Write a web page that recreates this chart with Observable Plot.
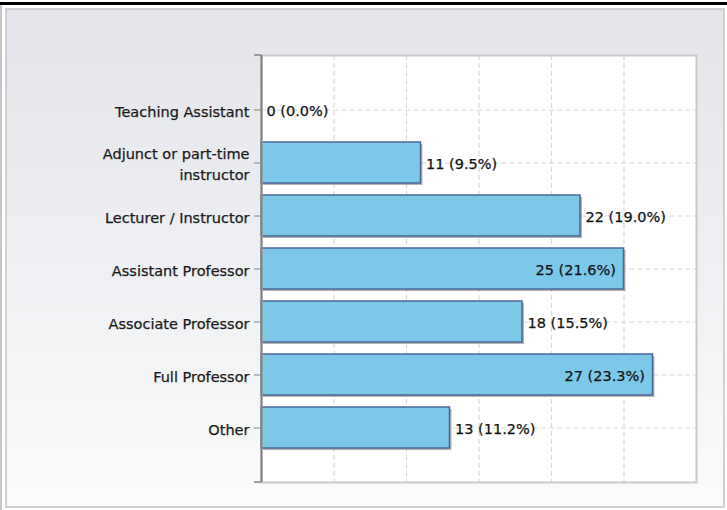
<!DOCTYPE html>
<html>
<head>
<meta charset="utf-8">
<script src="https://cdn.jsdelivr.net/npm/d3@7"></script>
<script src="https://cdn.jsdelivr.net/npm/@observablehq/plot@0.6"></script>
<style>
  body { margin: 0; background: #fff; }
  #page { position: relative; width: 727px; height: 510px; overflow: hidden; background: #fff; font-family: "DejaVu Sans", sans-serif; }
  #topbar { position: absolute; left: 0; top: 2px; width: 727px; height: 3px; background: #000; }
  #leftline { position: absolute; left: 0; top: 5px; width: 2px; height: 505px; background: #c6c6c6; }
  #panel { position: absolute; left: 5px; top: 8px; width: 716px; height: 496px; border: 2px solid #d0d0d0;
           background: linear-gradient(to bottom, #e3e5ea 0%, #eceef1 45%, #fbfbfb 100%); }
  #chart { position: absolute; left: 0; top: 0; }
  #chart svg text { stroke: #1a1a1a; stroke-width: 0.25px; }
</style>
</head>
<body>
<div id="page">
  <div id="topbar"></div>
  <div id="leftline"></div>
  <div id="panel"></div>
  <div id="chart"></div>
</div>
<script>
// ---- data ----
const categories = [
  "Teaching Assistant",
  "Adjunct or part-time\ninstructor",
  "Lecturer / Instructor",
  "Assistant Professor",
  "Associate Professor",
  "Full Professor",
  "Other"
];
const counts = [0, 11, 22, 25, 18, 27, 13];
const xGridTicks = [5, 10, 15, 20, 25];
const xDomain = [0, 30];

// ---- layout ----
const W = 727, H = 510;
const mL = 261, mR = 31, mT = 55, mB = 28;
const plotH = H - mT - mB;
const step = plotH / (categories.length + 1);

const total = d3.sum(counts);
const data = categories.map((c, i) => ({
  cat: c,
  value: counts[i],
  label: `${counts[i]} (${(counts[i] / total * 100).toFixed(1)}%)`
}));
const insideThreshold = 24;

const chart = Plot.plot({
  width: W,
  height: H,
  marginLeft: mL,
  marginRight: mR,
  marginTop: mT,
  marginBottom: mB,
  style: { fontFamily: "DejaVu Sans, sans-serif", fontSize: "14.5px", background: "transparent", overflow: "visible" },
  x: { domain: xDomain, axis: null, label: null },
  y: { domain: categories, range: [mT + step / 2, H - mB - step / 2], paddingInner: 0.22, paddingOuter: 0.11, axis: null, label: null },
  marks: [
    Plot.frame({ fill: "white", stroke: "none" }),
    Plot.ruleX(xGridTicks, { stroke: "#d9d9d9", strokeWidth: 1.2, strokeDasharray: "5,3" }),
    Plot.ruleY(categories, { y: d => d, stroke: "#d9d9d9", strokeWidth: 1.2, strokeDasharray: "5,3" }),
    Plot.barX(data, { x: "value", y: "cat", fill: "#5a5a5a", fillOpacity: 0.45, dx: 2, dy: 2, filter: d => d.value > 0 }),
    Plot.barX(data, { x: "value", y: "cat", fill: "#7cc8e9", stroke: "#4b6796", strokeWidth: 1.5, filter: d => d.value > 0 }),
    Plot.frame({ stroke: "#c9c9c9", strokeWidth: 2 }),
    Plot.ruleX([0], { stroke: "#808080", strokeWidth: 2 }),
    Plot.axisY({ tickSize: 7, tickPadding: 5, stroke: "#808080", fill: "#1a1a1a", fontSize: 14.5, lineHeight: 1.4, label: null }),
    Plot.text(data, { x: "value", y: "cat", text: "label", textAnchor: "start", dx: 5, dy: 1, fill: "#111", fontSize: 14.5,
                      filter: d => d.value <= insideThreshold }),
    Plot.text(data, { x: "value", y: "cat", text: "label", textAnchor: "end", dx: -8, dy: 1, fill: "#111", fontSize: 14.5,
                      filter: d => d.value > insideThreshold })
  ]
});

// axis end ticks (top and bottom of the vertical axis)
const svg = d3.select(chart);
[mT, H - mB].forEach(yy => {
  svg.append("line").attr("x1", mL - 7).attr("x2", mL).attr("y1", yy).attr("y2", yy)
    .attr("stroke", "#808080").attr("stroke-width", 1.5);
});

document.getElementById("chart").appendChild(chart);
</script>
</body>
</html>
